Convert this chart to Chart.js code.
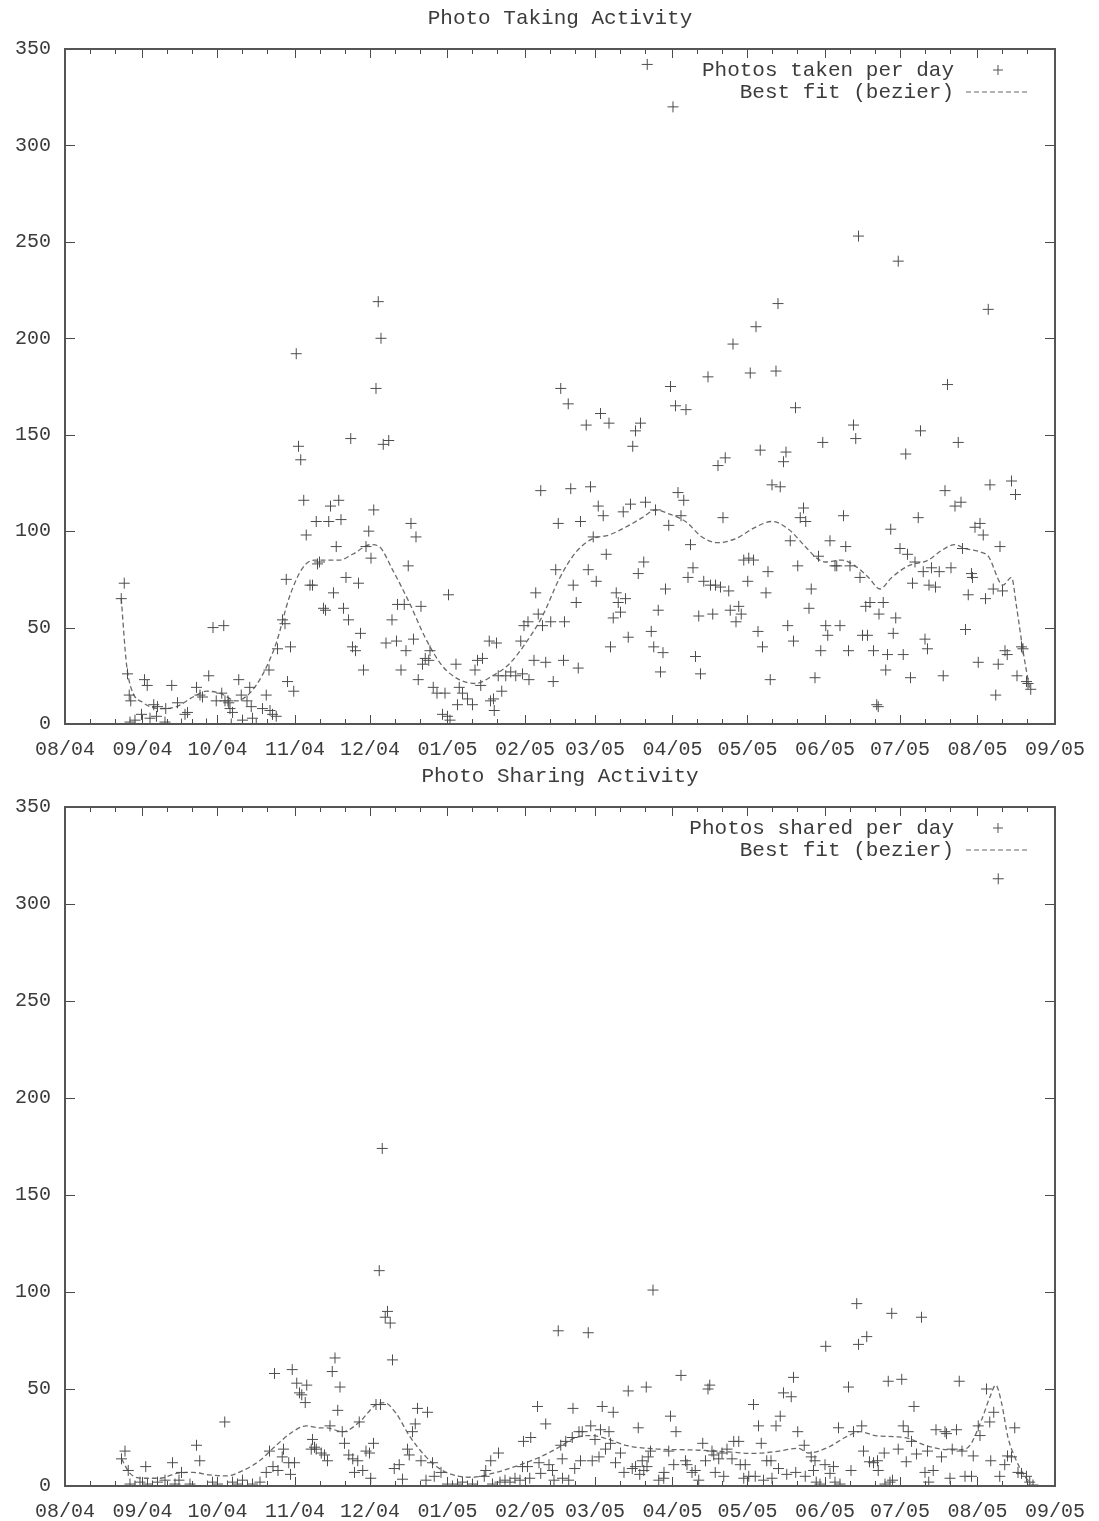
<!DOCTYPE html>
<html><head><meta charset="utf-8">
<script src="https://cdn.jsdelivr.net/npm/chart.js@4/dist/chart.umd.min.js"></script>
<style>
html,body{margin:0;padding:0;background:#fff;width:1099px;height:1521px;overflow:hidden;}
.wrap{position:absolute;left:0;width:1099px;}
</style></head><body>
<div class="wrap" style="top:0;height:760px"><canvas id="c1" width="1099" height="760"></canvas></div>
<div class="wrap" style="top:760px;height:761px"><canvas id="c2" width="1099" height="761"></canvas></div>
<script>
// x values are days since 2004-08-01
const monthDays = [0,31,61,92,122,153,184,212,243,273,304,334,365,396];
const monthLabels = ['08/04','09/04','10/04','11/04','12/04','01/05','02/05','03/05','04/05','05/05','06/05','07/05','08/05','09/05'];
const yTickValues = [0,50,100,150,200,250,300,350];

const takenDay = [22.5,23.7,25,25.7,26.3,26,28,30.6,31,31.8,32.9,34,35.5,36.6,37,40,40.3,42.7,45,46.6,48,49,52.6,54,55,56.6,57.5,59.2,60.5,62.7,63.5,64,65.2,65.5,66,66.5,67,69.5,70.5,71,72.8,73.9,74.5,75,76.5,79,80.5,81.6,82,83,84.5,85,87,88,88.5,89,90.2,91.5,
92.5,93.4,94.3,95.5,96.5,98,99,100.5,101,101.8,103.4,104.2,105.5,106.2,107.4,108.5,109.5,110.4,111.4,112.4,113.4,114.3,115,116.2,117.4,118.2,119.4,120.4,121.5,122.4,123.5,124.4,125.3,126.4,127.3,128.4,129.5,130.8,132.6,133,134.4,135.7,136.4,137.3,138.4,139.4,140.4,141.3,142.4,143,144.1,145.5,146,147.3,148.8,151,152,153,153.4,154,156.4,157,157.7,159,161,163,164,165,166.3,167,169.7,170.2,171.4,171.7,172.6,173.3,174.7,176.3,178.3,180.3,182.3,183,183.6,185.2,185.6,187.6,188.3,189.3,190.3,191,192.3,194.3,195.3,196.3,197.3,
198.3,199.4,199.8,201.3,202.3,203.3,204.5,205.3,206.2,208.5,209.3,210.2,211.3,212.5,213.3,214.2,215.3,216.5,217.6,218.2,219.3,220.5,221.3,222.2,223.3,224.2,225.3,226.2,227.1,228.2,229.3,230.2,231.5,232.2,232.9,234.5,235.5,236.2,237.3,238.2,239.2,240.2,241.5,242.2,243.2,244.2,245.2,246.4,247.5,248.4,249.2,250.2,251.2,252.2,253.5,254.2,255.5,257.2,258.2,259.1,260.2,261.2,262.2,263.2,264.1,265.5,266.1,267.2,268.4,269.5,270.5,271.5,273.1,273.5,274.1,275.4,276.4,277.2,278.1,279,280.4,281.2,282.1,282.8,284.4,285.2,286.1,287.4,288.4,289.1,290.1,291.4,292.2,293.1,294.1,295.4,296.3,297.6,298.5,300,
301.4,302.3,303.1,304.3,305.1,306,308,308.7,310,311.4,312.3,313.4,314,315.4,316.3,317.4,318,319,320.3,321,322,323.4,324.7,325.3,325.6,327.3,328.3,329,330.3,331.3,332.3,333.3,334,335.3,336.3,337,338.2,339,340,341.3,342.2,343.3,344,345,345.6,346.6,348.2,349.7,351.3,352,353,354.4,356,357.3,358.4,359,360.2,361.3,362.6,363,364,365.3,366,367.3,368.2,369.3,370,371.3,372.3,373.3,374,375,376,376.9,378.6,380.2,380.8,382.6,383.2,384.6,385.2,386.3];
const takenCount = [65,73,26,15,12,1,2,5,0,23,20,3,10,4,9,1,8,20,11,0,5,6,19,15,14,0,25,50,12,16,51,12,12,11,8,0,6,23,15,2,12,19,9,3,0,8,15,28,7,5,4,39,54,52,75,22,40,17,
192,144,137,116,98,72,72,105,83,84,60,59,105,113,68,92,116,106,60,76,54,148,40,38,73,47,28,92,100,86,111,174,219,200,145,42,147,54,43,62,28,62,38,82,104,44,97,23,61,31,34,33,38,19,16,5,16,4,67,2,31,10,19,16,13,10,28,33,20,34,43,12,13,7,42,25,17,25,27,25,43,26,51,53,23,33,68,57,121,51,32,53,22,80,104,
174,33,53,166,122,72,63,29,105,155,80,123,97,74,113,161,108,88,156,40,55,68,63,58,110,65,45,114,144,152,78,156,84,115,342,48,40,111,59,27,37,70,103,175,320,165,120,108,116,163,76,93,81,35,56,26,74,180,72,57,72,134,71,107,138,69,59,197,53,61,57,85,74,86,182,85,206,48,142,40,68,79,23,124,183,218,123,136,141,51,95,43,164,82,107,112,105,60,70,24,
87,38,146,51,46,95,82,82,51,108,92,38,82,155,148,253,76,46,61,46,63,38,10,9,57,63,28,36,101,47,55,240,91,36,140,88,24,73,84,107,152,79,44,39,72,81,71,79,25,121,176,81,113,146,115,91,49,67,78,76,102,32,104,98,65,215,124,70,15,31,92,69,38,36,126,119,25,40,39,22,21,18];

const takenFitDay = [22.5,24.6,26.6,31.3,37.9,44.6,51.2,56.6,61.9,68.5,73.9,79.2,84.5,89.8,95.1,99.8,109.8,115,122.4,125.7,131,137.7,144.4,151,157.7,164.3,171,177.6,184.3,191,197.6,204.3,210.9,217.6,224.2,230.9,236.2,241.5,248.2,254.8,260.8,268.1,276.1,282.8,289.4,296.1,300.7,304,310.7,316,321.4,326,330.7,337.3,345.3,350.6,356,360,366.6,369.3,375.2,378.6,380.6,383.2,385.9];
const takenFitValue = [65,31,18,11,8,9,14,17,16,12,16,26,42,66,81,85,85,88,93,92,80,63,44,30,23,21,25,31,42,56,75,89,96,98,102,107,111,109,105,97,94,96,102,105,101,92,86,84,85,82,76,70,76,82,85,90,93,91,89,87,72,76,61,38,18];

const sharedDay = [22.6,24,25.3,26,28,30,32.3,33,35,37,40,43,44,45.6,46.6,50,52.6,53.9,57,59,61,63.9,65,67,69,71,73,75,78,80.5,81.8,83.2,83.8,85.2,86.9,87.4,89.5,90.2,90.9,91.8,92.7,93.8,94.7,96.1,96.7,98.5,99,99.8,100.5,102.5,103.8,105,106,106.9,108,109.1,110,110.9,111.8,113.5,115.1,115.8,117.1,117.7,119.1,120.4,121.8,122.3,123.4,124.4,125.7,126.2,126.9,128.1,129,130.1,131,131.7,133.7,135,137,137.7,139,140.1,141,142.4,144.4,145,147,147.7,150.4,153,155,157,159,161,163,165,167.7,168.3,170.3,171,173.4,174,176,178,180,182,183,183.4,185,185.9,186.3,189,189.6,190.3,192.3,193.6,195,195.6,197.3,
198.3,198.9,199,200.3,201.5,202.9,203.2,203.9,205.6,206.2,206.9,209.3,210.3,210.9,212,213.6,214.2,214.9,216.2,217.6,218.2,219.3,220.2,222.2,223.6,225.3,226.9,228.2,229.3,229.9,230.9,231.5,232.5,232.8,233.3,234.2,235.2,237.5,239.5,239.6,241.5,242.2,243.5,244.4,246.4,248.2,248.8,250.8,252.1,253.5,255.1,256.2,257.2,257.9,258.8,259.5,260.1,261.5,262.8,263.5,264.8,266.8,267.5,269.5,270.1,271.5,272.1,273.5,275.4,276.1,277.4,278.5,279.4,280.7,282.4,282.8,284.4,285.4,286.1,287.4,288.7,290.5,291.4,292.3,293.1,295.7,296.1,
298.5,299.4,300,300.5,302,304,304.3,306,307.4,308,309.4,310,313.4,314.4,315.4,316.7,317.4,318.7,319.4,320.7,321.8,323.4,325,325.3,327.7,328,329.3,330,330.7,331,333.3,334.7,335.3,336.5,337.3,338.6,339.6,340.6,342.6,344,345,345.5,347.3,348.4,350.6,352,352.6,354,354.9,356.6,357.7,358.8,360,362.6,363.3,365.3,366,368.6,369.9,370.3,371.5,373.3,373.9,375.9,377,378.6,379.9,381.2,382.6,384.6,385.9,387.2];
const sharedCount = [14,18,8,1,0,2,10,1,0,2,3,12,1,3,7,1,21,13,0,2,1,33,0,2,1,3,0,1,2,7,18,10,58,8,15,19,12,6,60,12,53,48,47,43,52,19,24,20,19,17,16,13,31,59,66,39,51,28,22,16,14,7,13,33,8,18,17,4,22,42,111,42,174,87,90,84,65,9,11,3.5,19,16,28,32,40,13,3,38,12,5,7,1,0,1,2,0,1,0,5,8,13,1,17,2,3,2,4,3,10,23,10,4,25,41,12,6.5,32,11,8,3,80,
21,14,4,23,3,25,40,9,28,13,28,79,31,13,24,15,29,41,19,28,22,38,12,17,7,49,9,10,30,6,13,8,51,10,15,18,101,3,4,7,18,36,11,28,57,13,11,7,8,3,22,13,50,52,18,16,7,14,17,5,19,14,23,23,11,4,11,5,42,5,31,22,3,13,13,4,31,9,36,48,6,46,56,7,28,21,5,
15,8,13,2,1,11,72,6.5,10,2,30,1,51,8,28,94,73,31,18,77,12.5,12,13,8,17,1,54,2,89,3,19,55,31,12.5,28,23,41,16.5,87,7,18,2,8,29,15,28,27,4,19,29,54,18,5,5,15.5,31,26,50,33,13,38,313,5,11,15.5,15,30,7,6.5,5,2,0.5];

const sharedFitDay = [22.6,26,31.3,37.9,44.6,51.2,57.9,64.5,71.2,77.8,84.5,91.1,96.5,101.8,104.5,111.1,117.8,124.4,127.7,132.4,137.7,144.4,151,157.7,163,171,177.6,184.3,191,197.6,204.3,210.9,217.6,224.2,237.5,250.8,264.1,274.8,284.1,293.4,297.4,305.4,312,318,324,332,337.3,344,350.6,357.3,361.3,366.6,370,372.3,374.6,377.2,379.9,383.9,386.5];
const sharedFitValue = [14,6.5,4,4,6.5,7,5.7,5.2,8,13,21,28,31,30,30,28,33,42,43,37.5,26,15,8,5,4.5,6.5,9,12,15.5,20,25,26,24,21,19,18.6,17.7,16.8,17.7,19.4,17,20,25,28,26,25.4,24.6,21,19,18.6,20,34,46,52,43,25,15,5,1.4];

const FONT = 'Liberation Mono, Courier New, monospace';
const INK = '#3c3c3c';

const decorPlugin = {
  id: 'decor',
  afterDatasetsDraw(chart, args, opts) {
    const {ctx, chartArea: a, scales: {x, y}} = chart;
    ctx.save();
    ctx.strokeStyle = '#4a4a4a';
    ctx.lineWidth = 1;
    ctx.beginPath();
    monthDays.forEach((d, i) => {
      const px = Math.round(x.getPixelForValue(d)) + 0.5;
      ctx.moveTo(px, a.bottom); ctx.lineTo(px, a.bottom - 9);
      ctx.moveTo(px, a.top); ctx.lineTo(px, a.top + 9);
      if (i < monthDays.length - 1) {
        [10, 20].forEach(off => {
          const mx = Math.round(x.getPixelForValue(d + off)) + 0.5;
          ctx.moveTo(mx, a.bottom); ctx.lineTo(mx, a.bottom - 5);
          ctx.moveTo(mx, a.top); ctx.lineTo(mx, a.top + 5);
        });
      }
    });
    yTickValues.forEach(v => {
      const py = Math.round(y.getPixelForValue(v)) + 0.5;
      ctx.moveTo(a.left, py); ctx.lineTo(a.left + 10, py);
      ctx.moveTo(a.right, py); ctx.lineTo(a.right - 10, py);
    });
    ctx.stroke();
    ctx.lineWidth = 2;
    ctx.strokeStyle = '#555';
    ctx.strokeRect(a.left, a.top, a.right - a.left, a.bottom - a.top);

    // title
    ctx.fillStyle = INK;
    ctx.font = '21px ' + FONT;
    ctx.textAlign = 'center';
    ctx.textBaseline = 'middle';
    ctx.fillText(opts.title, (a.left + a.right) / 2, a.top - 31);

    // legend (gnuplot style: text right-aligned, sample to the right)
    const ds = chart.data.datasets;
    const tx = a.right - 101;
    const rows = [a.top + 21, a.top + 43];
    ctx.textAlign = 'right';
    ds.forEach((d, i) => {
      ctx.fillStyle = INK;
      ctx.fillText(d.label, tx, rows[i]);
    });
    ctx.strokeStyle = '#555';
    ctx.lineWidth = 1;
    ctx.beginPath();
    const cx = a.right - 57, cy = rows[0];
    ctx.moveTo(cx - 5, cy); ctx.lineTo(cx + 5, cy);
    ctx.moveTo(cx, cy - 5); ctx.lineTo(cx, cy + 5);
    ctx.stroke();
    ctx.setLineDash([5, 3]);
    ctx.strokeStyle = '#666';
    ctx.beginPath();
    ctx.moveTo(a.right - 89, rows[1]); ctx.lineTo(a.right - 25, rows[1]);
    ctx.stroke();
    ctx.restore();
  }
};

function makeChart(id, title, ptLabel, days, counts, fitDays, fitVals, xHeight, padTop) {
  const pts = days.map((d, i) => ({x: d, y: counts[i]}));
  const fit = fitDays.map((d, i) => ({x: d, y: fitVals[i]}));
  return new Chart(document.getElementById(id), {
    type: 'scatter',
    data: {
      datasets: [
        {label: ptLabel, data: pts, pointStyle: 'cross', pointRadius: 5.5, pointBorderColor: '#4d4d4d', pointBorderWidth: 1, borderColor: '#4d4d4d', showLine: false},
        {label: 'Best fit (bezier)', data: fit, type: 'line', showLine: true, pointRadius: 0, borderColor: '#6a6a6a', borderWidth: 1.3, borderDash: [5, 3], cubicInterpolationMode: 'monotone', fill: false}
      ]
    },
    options: {
      responsive: false,
      animation: false,
      devicePixelRatio: 1,
      events: [],
      layout: {padding: {left: 0, right: 42, top: padTop, bottom: 0}},
      plugins: {legend: {display: false}, tooltip: {enabled: false}, title: {display: false}, decor: {title: title}},
      scales: {
        x: {
          type: 'linear', min: 0, max: 396,
          afterBuildTicks: s => { s.ticks = monthDays.map(v => ({value: v})); },
          afterFit: s => { s.height = xHeight; },
          grid: {display: false, drawTicks: false}, border: {display: false},
          ticks: {autoSkip: false, maxRotation: 0, padding: 14, color: INK, font: {family: FONT, size: 20},
            callback: (v, i) => monthLabels[i]}
        },
        y: {
          min: 0, max: 350,
          afterBuildTicks: s => { s.ticks = yTickValues.map(v => ({value: v})); },
          afterFit: s => { s.width = 65; },
          grid: {display: false, drawTicks: false}, border: {display: false},
          ticks: {padding: 14, color: INK, font: {family: FONT, size: 20}}
        }
      }
    },
    plugins: [decorPlugin]
  });
}

makeChart('c1', 'Photo Taking Activity', 'Photos taken per day', takenDay, takenCount, takenFitDay, takenFitValue, 36, 49);
makeChart('c2', 'Photo Sharing Activity', 'Photos shared per day', sharedDay, sharedCount, sharedFitDay, sharedFitValue, 35, 47);
</script>
</body></html>
